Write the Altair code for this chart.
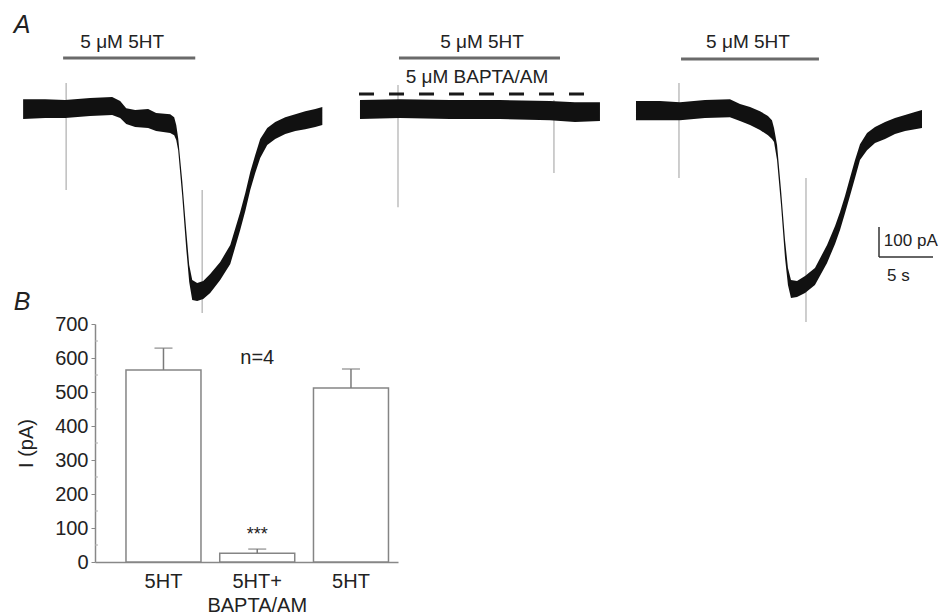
import json
import altair as alt
import pandas as pd

FONT = "Liberation Sans"
INK = "#222222"

# ---------------- Panel A: current traces (time in s, current envelope in pA) ----------------
T1_TIME = [0.00, 2.04, 3.89, 6.20, 8.24, 8.98, 9.54, 10.37, 11.57, 12.31, 13.61, 13.98, 14.17, 14.35,
           14.72, 15.09, 15.37, 15.65, 16.11, 16.67, 17.31, 18.24, 19.17, 20.09, 20.56, 21.02, 21.48,
           21.94, 22.59, 23.33, 24.26, 25.19, 26.11, 27.04, 27.69]
T1_HI = [33, 33, 30, 37, 40, 27, 3, -3, 0, -13, -17, -27, -53, -97, -237, -403, -520, -570, -580,
         -573, -550, -510, -453, -343, -280, -210, -153, -100, -63, -43, -27, -17, -7, 0, 7]
T1_LO = [-33, -30, -30, -23, -20, -30, -50, -60, -63, -73, -80, -87, -103, -137, -287, -463, -577,
         -637, -640, -633, -613, -570, -517, -403, -340, -270, -213, -163, -120, -100, -83, -73, -67,
         -60, -53]

T2_TIME = [0.00, 3.70, 8.33, 12.96, 17.59, 19.91, 22.22]
T2_HI = [30, 33, 30, 30, 27, 23, 23]
T2_LO = [-33, -30, -33, -33, -37, -43, -40]

T3_TIME = [0.00, 2.22, 4.07, 6.39, 8.70, 9.63, 10.56, 11.48, 12.22, 12.59, 12.78, 13.06, 13.43, 13.80,
           14.07, 14.35, 14.91, 15.65, 16.57, 17.69, 18.43, 18.89, 19.35, 19.81, 20.28, 20.74, 21.39,
           22.13, 23.06, 23.98, 24.91, 25.83, 26.48]
T3_HI = [27, 27, 23, 30, 33, 17, 7, -7, -23, -37, -63, -120, -270, -437, -530, -570, -573, -557, -530,
         -453, -390, -343, -290, -230, -170, -117, -80, -60, -43, -30, -20, -10, -3]
T3_LO = [-37, -37, -37, -30, -27, -40, -53, -70, -87, -100, -110, -170, -320, -497, -587, -630, -627,
         -613, -587, -513, -450, -403, -347, -290, -230, -170, -137, -113, -100, -83, -73, -67, -63]

# stimulus artefacts: time, top, bottom (pA)
ART_TIME = [[3.98, 16.57], [3.52, 17.96], [3.98, 15.74]]
ART_TOP = [[87, -270], [80, 30], [87, -230]]
ART_BOTTOM = [[-270, -680], [-327, -213], [-230, -710]]

# drug application bars
STIM_LABEL = "5 \u03bcM 5HT"
STIM_START = [3.70, 3.61, 4.17]
STIM_END = [15.93, 18.52, 16.94]
STIM_LEVEL = [170, 170, 167]
STIM_TEXT_T = [9.17, 11.30, 10.37]
STIM_TEXT_I = [222, 222, 222]

BAPTA_LABEL = "5 \u03bcM BAPTA/AM"
BAPTA_TEXT = (10.83, 107)
BAPTA_BAR = (-0.09, 21.02, 50)

# scale bar (panel 3)
SCALE_T0, SCALE_T1 = 22.5, 27.5      # 5 s
SCALE_I0, SCALE_I1 = -493, -393      # 100 pA
SCALE_LABELS = ["100 pA", "5 s"]

PANEL_LETTERS = ["A", "B"]

# ---------------- Panel B: bar chart ----------------
BAR_IDS = ["a", "b", "c"]
BAR_LABELS = [["5HT"], ["5HT+", "BAPTA/AM"], ["5HT"]]
BAR_MEANS = [565, 26, 512]
BAR_SEM = [64, 12, 56]
Y_TICKS = [0, 100, 200, 300, 400, 500, 600, 700]
Y_MINOR = [50, 150, 250, 350, 450, 550, 650]
N_LABEL = "n=4"
SIG_LABEL = "***"

# ---------------- layout constants ----------------
PX_PER_S = 10.8
Y_DOMAIN = [-690, 337]
TOP_H = 308
T_DOMAINS = [(-1.4, 28.4), (-1.85, 23.15), (-1.48, 28.24)]

YS = alt.Scale(domain=Y_DOMAIN, nice=False, zero=False)


def xs(i):
    return alt.Scale(domain=list(T_DOMAINS[i]), nice=False, zero=False)


def trace_panel(i, times, hi, lo):
    XS = xs(i)
    trace = pd.DataFrame({"t": times, "hi": hi, "lo": lo})
    art = pd.DataFrame({"t": ART_TIME[i], "top": ART_TOP[i], "bottom": ART_BOTTOM[i]})
    stim = pd.DataFrame({"t0": [STIM_START[i]], "t1": [STIM_END[i]], "level": [STIM_LEVEL[i]]})
    stxt = pd.DataFrame({"t": [STIM_TEXT_T[i]], "I": [STIM_TEXT_I[i]], "label": [STIM_LABEL]})

    layers = [
        alt.Chart(art).mark_rule(color="#b4b4b4", strokeWidth=1.3).encode(
            x=alt.X("t:Q", scale=XS, axis=None),
            y=alt.Y("top:Q", scale=YS, axis=None),
            y2="bottom:Q"),
        alt.Chart(trace).mark_area(color="#111111", interpolate="linear").encode(
            x=alt.X("t:Q", scale=XS, axis=None),
            y=alt.Y("hi:Q", scale=YS, axis=None),
            y2="lo:Q"),
        alt.Chart(stim).mark_rule(color="#6a6a6a", strokeWidth=3).encode(
            x=alt.X("t0:Q", scale=XS, axis=None), x2="t1:Q",
            y=alt.Y("level:Q", scale=YS, axis=None)),
        alt.Chart(stxt).mark_text(font=FONT, fontSize=19, color=INK, baseline="middle").encode(
            x=alt.X("t:Q", scale=XS, axis=None),
            y=alt.Y("I:Q", scale=YS, axis=None),
            text="label:N"),
    ]
    if i == 0:
        letters = pd.DataFrame({"t": [-0.09, -0.09], "I": [280, -643], "label": PANEL_LETTERS})
        layers.append(alt.Chart(letters).mark_text(
            font=FONT, fontSize=25, fontStyle="italic", color=INK, baseline="middle").encode(
            x=alt.X("t:Q", scale=XS, axis=None),
            y=alt.Y("I:Q", scale=YS, axis=None),
            text="label:N"))
    if i == 1:
        bt = pd.DataFrame({"t": [BAPTA_TEXT[0]], "I": [BAPTA_TEXT[1]], "label": [BAPTA_LABEL]})
        bb = pd.DataFrame({"t0": [BAPTA_BAR[0]], "t1": [BAPTA_BAR[1]], "level": [BAPTA_BAR[2]]})
        layers.append(alt.Chart(bt).mark_text(font=FONT, fontSize=19, color=INK, baseline="middle").encode(
            x=alt.X("t:Q", scale=XS, axis=None),
            y=alt.Y("I:Q", scale=YS, axis=None),
            text="label:N"))
        layers.append(alt.Chart(bb).mark_rule(color="#1a1a1a", strokeWidth=3, strokeDash=[15, 15]).encode(
            x=alt.X("t0:Q", scale=XS, axis=None), x2="t1:Q",
            y=alt.Y("level:Q", scale=YS, axis=None)))
    if i == 2:
        hbar = pd.DataFrame({"t0": [SCALE_T0], "t1": [SCALE_T1], "level": [SCALE_I0]})
        vbar = pd.DataFrame({"t": [SCALE_T0], "i0": [SCALE_I0], "i1": [SCALE_I1]})
        sl = pd.DataFrame({"t": [SCALE_T0 + 0.45, SCALE_T0 + 0.75], "I": [-440, -557],
                           "label": SCALE_LABELS})
        layers.append(alt.Chart(hbar).mark_rule(color="#333333", strokeWidth=1.5).encode(
            x=alt.X("t0:Q", scale=XS, axis=None), x2="t1:Q",
            y=alt.Y("level:Q", scale=YS, axis=None)))
        layers.append(alt.Chart(vbar).mark_rule(color="#333333", strokeWidth=1.5).encode(
            x=alt.X("t:Q", scale=XS, axis=None),
            y=alt.Y("i0:Q", scale=YS, axis=None), y2="i1:Q"))
        layers.append(alt.Chart(sl).mark_text(font=FONT, fontSize=17, color=INK, align="left",
                                              baseline="middle").encode(
            x=alt.X("t:Q", scale=XS, axis=None),
            y=alt.Y("I:Q", scale=YS, axis=None),
            text="label:N"))
    width = round((T_DOMAINS[i][1] - T_DOMAINS[i][0]) * PX_PER_S)
    return alt.layer(*layers).properties(width=width, height=TOP_H)


p1 = trace_panel(0, T1_TIME, T1_HI, T1_LO)
p2 = trace_panel(1, T2_TIME, T2_HI, T2_LO)
p3 = trace_panel(2, T3_TIME, T3_HI, T3_LO)

# ---------------- bar chart ----------------
bars = pd.DataFrame({
    "cond": BAR_IDS,
    "mean": BAR_MEANS,
    "top": [m + s for m, s in zip(BAR_MEANS, BAR_SEM)],
})
label_expr = " : ".join(
    f"datum.value == '{i}' ? {json.dumps(lab if len(lab) > 1 else lab[0])}"
    for i, lab in zip(BAR_IDS, BAR_LABELS)) + " : ''"

X_AXIS = alt.Axis(title=None, labelAngle=0, ticks=False, domainColor="#888888",
                  domainWidth=1.5, labelExpr=label_expr, labelFont=FONT, labelFontSize=20,
                  labelColor=INK, labelPadding=9, labelLineHeight=24)
Y_AXIS = alt.Axis(values=Y_TICKS, title="I (pA)", grid=False, tickSize=4, labelOverlap=False,
                  tickColor="#888888", domainColor="#888888", domainWidth=1.5,
                  labelFont=FONT, labelFontSize=20, labelColor=INK, labelPadding=3,
                  titleFont=FONT, titleFontSize=20, titleFontWeight="normal",
                  titleColor=INK, titlePadding=18)
XSB = alt.Scale(paddingInner=0.2, paddingOuter=0.216, align=0.765)
YSB = alt.Scale(domain=[0, 700], nice=False)

XB = alt.X("cond:N", sort=BAR_IDS, scale=XSB, axis=X_AXIS)
YB = alt.Y("mean:Q", scale=YSB, axis=Y_AXIS)

base = alt.Chart(bars)
bar_layer = base.mark_bar(fill="white", stroke="#858585", strokeWidth=1.5).encode(x=XB, y=YB)
err = base.mark_rule(color="#7a7a7a", strokeWidth=1.5).encode(x=XB, y=YB, y2="top:Q")
cap = base.mark_tick(orient="horizontal", color="#7a7a7a", thickness=1.5, size=18).encode(
    x=XB, y=alt.Y("top:Q", scale=YSB, axis=Y_AXIS))

minor = alt.Chart(pd.DataFrame({"v": Y_MINOR})).mark_rule(color="#b0b0b0", strokeWidth=1).encode(
    x=alt.value(0), x2=alt.value(3), y=alt.Y("v:Q", scale=YSB, axis=Y_AXIS))

notes = pd.DataFrame({"cond": ["b", "b"], "mean": [600, 65], "label": [N_LABEL, SIG_LABEL]})
note_n = alt.Chart(notes.iloc[[0]]).mark_text(font=FONT, fontSize=20, color=INK,
                                              baseline="middle").encode(x=XB, y=YB, text="label:N")
note_sig = alt.Chart(notes.iloc[[1]]).mark_text(font=FONT, fontSize=18, color=INK,
                                                baseline="alphabetic").encode(x=XB, y=YB, text="label:N")

bar_chart = alt.layer(bar_layer, err, cap, minor, note_n, note_sig).properties(width=303, height=238)

spacer = alt.Chart(pd.DataFrame({"v": [0]})).mark_text(text="").encode(
    x=alt.value(0), y=alt.value(0)).properties(width=77, height=10)

top = alt.hconcat(p1, p2, p3, spacing=10, bounds="flush")
bottom = alt.hconcat(spacer, bar_chart, spacing=10, bounds="flush")

chart = alt.vconcat(top, bottom, spacing=-9).properties(
    padding=0, background="white").configure_view(stroke=None)

chart.save("out.html", embed_options={"renderer": "svg", "actions": False})
